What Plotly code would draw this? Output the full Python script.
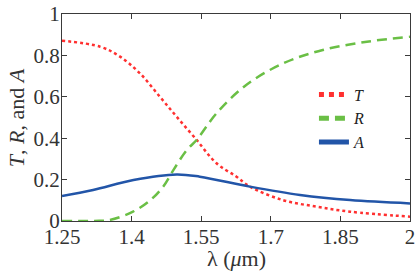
import plotly.graph_objects as go

lam_T = [1.25, 1.332, 1.375, 1.418, 1.461, 1.497, 1.537, 1.583, 1.626, 1.655, 1.726, 1.799, 1.871, 2.0]
T = [0.871, 0.842, 0.794, 0.713, 0.600, 0.504, 0.400, 0.279, 0.214, 0.166, 0.101, 0.069, 0.045, 0.021]

lam_R = [1.25, 1.30, 1.33, 1.353, 1.403, 1.44, 1.468, 1.49, 1.519, 1.54, 1.583, 1.647, 1.727, 1.812, 1.907, 2.0]
R = [0.0, 0.0, 0.001, 0.005, 0.045, 0.10, 0.166, 0.246, 0.343, 0.391, 0.52, 0.657, 0.762, 0.826, 0.866, 0.89]

lam_A = [1.25, 1.317, 1.404, 1.497, 1.547, 1.655, 1.763, 1.871, 2.0]
A = [0.121, 0.150, 0.198, 0.225, 0.214, 0.166, 0.126, 0.101, 0.085]

x_ticks = [1.25, 1.4, 1.55, 1.7, 1.85, 2]
x_ticklabels = ["1.25", "1.4", "1.55", "1.7", "1.85", "2"]
y_ticks = [0, 0.2, 0.4, 0.6, 0.8, 1]
y_ticklabels = ["0", "0.2", "0.4", "0.6", "0.8", "1"]

FONT = "Liberation Serif, Times New Roman, serif"
AX = "#3a3a3a"
TXT = "#333333"

fig = go.Figure()
fig.add_trace(go.Scatter(x=lam_T, y=T, name="<i>T</i>", mode="lines",
                         line=dict(color="#ff3030", width=2.5, dash="dot", shape="spline")))
fig.add_trace(go.Scatter(x=lam_R, y=R, name="<i>R</i>", mode="lines",
                         line=dict(color="#6abf45", width=2.5, dash="10px,6px", shape="spline")))
fig.add_trace(go.Scatter(x=lam_A, y=A, name="<i>A</i>", mode="lines",
                         line=dict(color="#2255a8", width=2.5, shape="spline")))

axis_common = dict(showgrid=False, zeroline=False, showline=True, linecolor=AX, linewidth=1,
                   mirror="ticks", ticks="inside", ticklen=5, tickcolor=AX, tickwidth=1,
                   automargin=False, ticklabelstandoff=-3, ticklabeloverflow="allow",
                   tickfont=dict(family=FONT, size=21, color=TXT))

fig.update_xaxes(range=[1.25, 2], tickvals=x_ticks, ticktext=x_ticklabels, **axis_common)
fig.update_yaxes(range=[0, 1], tickvals=y_ticks, ticktext=y_ticklabels, **axis_common)

# axis titles as annotations for exact placement
fig.add_annotation(text="λ (<i>μ</i>m)", xref="paper", yref="paper", x=0.5, y=-0.18,
                   xanchor="center", yanchor="middle", showarrow=False,
                   font=dict(family=FONT, size=22, color=TXT))
fig.add_annotation(text="<i>T</i>, <i>R</i>, and <i>A</i>", xref="paper", yref="paper",
                   x=-0.13, y=0.5, xanchor="center", yanchor="middle", textangle=-90,
                   showarrow=False, font=dict(family=FONT, size=22, color=TXT))

fig.update_layout(
    width=415, height=278,
    margin=dict(l=62, r=5, t=14, b=57),
    font=dict(family=FONT, size=20, color=TXT),
    paper_bgcolor="white", plot_bgcolor="white",
    showlegend=True,
    legend=dict(x=0.724, y=0.693, xanchor="left", yanchor="top", bgcolor="rgba(0,0,0,0)",
                font=dict(family=FONT, size=16, color="#222222"), itemwidth=30,
                tracegroupgap=0, itemsizing="constant"),
)

fig.write_html("out.html", config={"displayModeBar": False},
               post_script="document.body.style.margin='0';document.body.style.overflow='hidden';")
